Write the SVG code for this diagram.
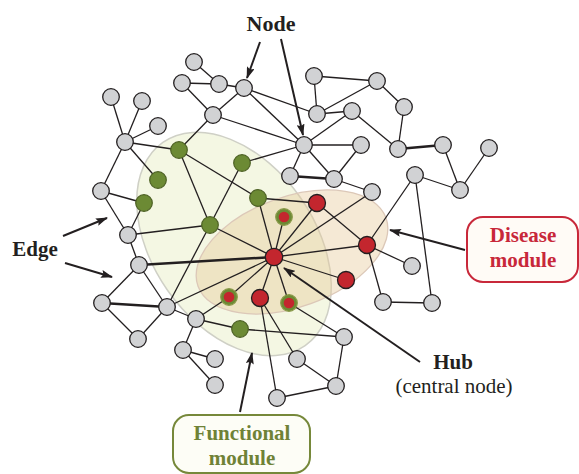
<svg xmlns="http://www.w3.org/2000/svg" width="579" height="474" viewBox="0 0 579 474">
<style>
.e{stroke:#231f20;stroke-width:1.3;fill:none}
.t{stroke:#231f20;stroke-width:2.6;fill:none}
.g{fill:#d1d2d4;stroke:#231f20;stroke-width:1.3}
.gr{fill:#6c8a34;stroke:#4d6124;stroke-width:1.2}
.rd{fill:#c3262e;stroke:#231f20;stroke-width:1.3}
.rgo{fill:#6c8a34;stroke:#8a9a4a;stroke-width:1.2}
.rgi{fill:#c3262e}
.a{stroke:#231f20;stroke-width:2;fill:none;marker-end:url(#ah)}
.lb{font-family:"Liberation Serif",serif;font-weight:bold;font-size:21px;fill:#231f20;text-anchor:middle}
.sub{font-family:"Liberation Serif",serif;font-size:21px;fill:#231f20;text-anchor:middle}
</style>
<defs>
<marker id="ah" markerUnits="userSpaceOnUse" markerWidth="12" markerHeight="8" refX="11" refY="4" orient="auto">
<path d="M0,0 L12,4 L0,8 L2,4 z" fill="#231f20"/>
</marker>
</defs>
<rect width="579" height="474" fill="#ffffff"/>
<g id="modules">
<ellipse id="functional-area" cx="234" cy="244" rx="124" ry="81" transform="rotate(55 234 244)" fill="#f4f7e3" stroke="#cfd0c6" stroke-width="1.5"/>
<ellipse id="disease-area" cx="292" cy="252" rx="100" ry="55" transform="rotate(-20 292 252)" fill="#e6c797" fill-opacity="0.4" stroke="#dcc8b8" stroke-width="1.3"/>
</g>
<g id="edges">
<line class="e" x1="111" y1="97" x2="125" y2="142"/>
<line class="e" x1="142" y1="101" x2="125" y2="142"/>
<line class="e" x1="158" y1="126" x2="125" y2="142"/>
<line class="e" x1="125" y1="142" x2="179" y2="150"/>
<line class="e" x1="125" y1="142" x2="101" y2="191"/>
<line class="e" x1="125" y1="142" x2="158" y2="180"/>
<line class="e" x1="194" y1="62" x2="219" y2="84"/>
<line class="e" x1="182" y1="83" x2="219" y2="84"/>
<line class="e" x1="182" y1="83" x2="213" y2="115"/>
<line class="e" x1="219" y1="84" x2="244" y2="88"/>
<line class="e" x1="244" y1="88" x2="213" y2="115"/>
<line class="e" x1="244" y1="88" x2="317" y2="114"/>
<line class="e" x1="244" y1="88" x2="304" y2="145"/>
<line class="e" x1="213" y1="115" x2="304" y2="145"/>
<line class="e" x1="213" y1="115" x2="179" y2="150"/>
<line class="e" x1="314" y1="76" x2="377" y2="81"/>
<line class="e" x1="314" y1="76" x2="317" y2="114"/>
<line class="e" x1="377" y1="81" x2="317" y2="114"/>
<line class="e" x1="317" y1="114" x2="352" y2="111"/>
<line class="e" x1="352" y1="111" x2="398" y2="149"/>
<line class="e" x1="304" y1="145" x2="352" y2="111"/>
<line class="e" x1="377" y1="81" x2="404" y2="107"/>
<line class="e" x1="404" y1="107" x2="398" y2="149"/>
<line class="t" x1="398" y1="149" x2="443" y2="145"/>
<line class="e" x1="443" y1="145" x2="460" y2="190"/>
<line class="e" x1="489" y1="148" x2="460" y2="190"/>
<line class="e" x1="415" y1="175" x2="460" y2="190"/>
<line class="e" x1="415" y1="175" x2="367" y2="245"/>
<line class="e" x1="415" y1="175" x2="432" y2="303"/>
<line class="e" x1="383" y1="302" x2="432" y2="303"/>
<line class="e" x1="367" y1="245" x2="412" y2="266"/>
<line class="e" x1="367" y1="245" x2="383" y2="302"/>
<line class="e" x1="304" y1="145" x2="361" y2="145"/>
<line class="e" x1="304" y1="145" x2="290" y2="176"/>
<line class="e" x1="304" y1="145" x2="334" y2="179"/>
<line class="e" x1="361" y1="145" x2="334" y2="179"/>
<line class="t" x1="290" y1="176" x2="334" y2="179"/>
<line class="e" x1="334" y1="179" x2="372" y2="192"/>
<line class="e" x1="304" y1="145" x2="242" y2="163"/>
<line class="e" x1="179" y1="150" x2="258" y2="198"/>
<line class="e" x1="179" y1="150" x2="210" y2="225"/>
<line class="e" x1="242" y1="163" x2="210" y2="225"/>
<line class="e" x1="258" y1="198" x2="317" y2="203"/>
<line class="e" x1="317" y1="203" x2="367" y2="245"/>
<line class="e" x1="101" y1="191" x2="144" y2="203"/>
<line class="e" x1="101" y1="191" x2="128" y2="235"/>
<line class="e" x1="128" y1="235" x2="144" y2="203"/>
<line class="e" x1="128" y1="235" x2="210" y2="225"/>
<line class="e" x1="128" y1="235" x2="139" y2="265"/>
<line class="t" x1="139" y1="265" x2="274" y2="257"/>
<line class="e" x1="139" y1="265" x2="102" y2="303"/>
<line class="e" x1="139" y1="265" x2="167" y2="307"/>
<line class="t" x1="102" y1="303" x2="167" y2="307"/>
<line class="e" x1="102" y1="303" x2="138" y2="339"/>
<line class="e" x1="138" y1="339" x2="167" y2="307"/>
<line class="e" x1="167" y1="307" x2="210" y2="225"/>
<line class="e" x1="167" y1="307" x2="274" y2="257"/>
<line class="e" x1="167" y1="307" x2="196" y2="319"/>
<line class="e" x1="196" y1="319" x2="229" y2="297"/>
<line class="e" x1="196" y1="319" x2="240" y2="329"/>
<line class="e" x1="196" y1="319" x2="183" y2="350"/>
<line class="e" x1="183" y1="350" x2="215" y2="359"/>
<line class="e" x1="183" y1="350" x2="215" y2="385"/>
<line class="e" x1="240" y1="329" x2="344" y2="337"/>
<line class="e" x1="274" y1="257" x2="210" y2="225"/>
<line class="e" x1="274" y1="257" x2="258" y2="198"/>
<line class="e" x1="274" y1="257" x2="284" y2="217"/>
<line class="e" x1="274" y1="257" x2="317" y2="203"/>
<line class="e" x1="274" y1="257" x2="372" y2="192"/>
<line class="e" x1="274" y1="257" x2="367" y2="245"/>
<line class="e" x1="274" y1="257" x2="346" y2="280"/>
<line class="e" x1="274" y1="257" x2="289" y2="303"/>
<line class="e" x1="274" y1="257" x2="260" y2="298"/>
<line class="e" x1="274" y1="257" x2="229" y2="297"/>
<line class="e" x1="260" y1="298" x2="277" y2="398"/>
<line class="e" x1="260" y1="298" x2="297" y2="359"/>
<line class="e" x1="289" y1="303" x2="344" y2="337"/>
<line class="e" x1="297" y1="359" x2="336" y2="386"/>
<line class="e" x1="344" y1="337" x2="336" y2="386"/>
<line class="e" x1="277" y1="398" x2="336" y2="386"/>
</g>
<g id="gray-nodes">
<circle id="n-a" class="g" cx="111" cy="97" r="8.3"/>
<circle id="n-b" class="g" cx="142" cy="101" r="8.3"/>
<circle id="n-c" class="g" cx="158" cy="126" r="8.3"/>
<circle id="n-d" class="g" cx="125" cy="142" r="8.3"/>
<circle id="n-e" class="g" cx="194" cy="62" r="8.3"/>
<circle id="n-f" class="g" cx="182" cy="83" r="8.3"/>
<circle id="n-g" class="g" cx="219" cy="84" r="8.3"/>
<circle id="n-h" class="g" cx="244" cy="88" r="8.3"/>
<circle id="n-i" class="g" cx="213" cy="115" r="8.3"/>
<circle id="n-j" class="g" cx="304" cy="145" r="8.3"/>
<circle id="n-k" class="g" cx="314" cy="76" r="8.3"/>
<circle id="n-l" class="g" cx="377" cy="81" r="8.3"/>
<circle id="n-m" class="g" cx="317" cy="114" r="8.3"/>
<circle id="n-n" class="g" cx="352" cy="111" r="8.3"/>
<circle id="n-o" class="g" cx="361" cy="145" r="8.3"/>
<circle id="n-p" class="g" cx="398" cy="149" r="8.3"/>
<circle id="n-q" class="g" cx="404" cy="107" r="8.3"/>
<circle id="n-s" class="g" cx="443" cy="145" r="8.3"/>
<circle id="n-r" class="g" cx="489" cy="148" r="8.3"/>
<circle id="n-t" class="g" cx="415" cy="175" r="8.3"/>
<circle id="n-u" class="g" cx="460" cy="190" r="8.3"/>
<circle id="n-v" class="g" cx="290" cy="176" r="8.3"/>
<circle id="n-w" class="g" cx="334" cy="179" r="8.3"/>
<circle id="n-x" class="g" cx="372" cy="192" r="8.3"/>
<circle id="n-y" class="g" cx="101" cy="191" r="8.3"/>
<circle id="n-z" class="g" cx="128" cy="235" r="8.3"/>
<circle id="n-aa" class="g" cx="139" cy="265" r="8.3"/>
<circle id="n-ab" class="g" cx="102" cy="303" r="8.3"/>
<circle id="n-ac" class="g" cx="167" cy="307" r="8.3"/>
<circle id="n-ad" class="g" cx="196" cy="319" r="8.3"/>
<circle id="n-ae" class="g" cx="138" cy="339" r="8.3"/>
<circle id="n-af" class="g" cx="183" cy="350" r="8.3"/>
<circle id="n-ag" class="g" cx="215" cy="359" r="8.3"/>
<circle id="n-ah" class="g" cx="215" cy="385" r="8.3"/>
<circle id="n-ai" class="g" cx="277" cy="398" r="8.3"/>
<circle id="n-aj" class="g" cx="297" cy="359" r="8.3"/>
<circle id="n-ak" class="g" cx="336" cy="386" r="8.3"/>
<circle id="n-al" class="g" cx="344" cy="337" r="8.3"/>
<circle id="n-am" class="g" cx="412" cy="266" r="8.3"/>
<circle id="n-an" class="g" cx="383" cy="302" r="8.3"/>
<circle id="n-ao" class="g" cx="432" cy="303" r="8.3"/>
</g>
<g id="green-nodes">
<circle id="f-1" class="gr" cx="179" cy="150" r="8.3"/>
<circle id="f-2" class="gr" cx="158" cy="180" r="8.3"/>
<circle id="f-3" class="gr" cx="144" cy="203" r="8.3"/>
<circle id="f-4" class="gr" cx="242" cy="163" r="8.3"/>
<circle id="f-5" class="gr" cx="258" cy="198" r="8.3"/>
<circle id="f-6" class="gr" cx="210" cy="225" r="8.3"/>
<circle id="f-7" class="gr" cx="240" cy="329" r="8.3"/>
</g>
<g id="mixed-nodes">
<g id="m-1"><circle class="rgo" cx="284" cy="217" r="8.3"/><circle class="rgi" cx="284" cy="217" r="5.3"/></g>
<g id="m-2"><circle class="rgo" cx="229" cy="297" r="8.3"/><circle class="rgi" cx="229" cy="297" r="5.3"/></g>
<g id="m-3"><circle class="rgo" cx="289" cy="303" r="8.3"/><circle class="rgi" cx="289" cy="303" r="5.3"/></g>
</g>
<g id="red-nodes">
<circle id="hub" class="rd" cx="274" cy="257" r="8.7"/>
<circle id="d-1" class="rd" cx="317" cy="203" r="8.5"/>
<circle id="d-2" class="rd" cx="367" cy="245" r="8.5"/>
<circle id="d-3" class="rd" cx="346" cy="280" r="8.5"/>
<circle id="d-4" class="rd" cx="260" cy="298" r="8.5"/>
</g>
<g id="annotation-arrows">
<line class="a" x1="260" y1="42" x2="247" y2="78"/>
<line class="a" x1="281" y1="39" x2="303" y2="135"/>
<line class="a" x1="63" y1="236" x2="107" y2="218"/>
<line class="a" x1="65" y1="263" x2="112" y2="277"/>
<line class="a" x1="465" y1="250" x2="390" y2="230"/>
<line class="a" x1="420" y1="362" x2="284" y2="268"/>
<line class="a" x1="240" y1="412" x2="252" y2="353"/>
</g>
<g id="labels">
<text class="lb" x="271" y="31" style="font-size:22px">Node</text>
<text class="lb" x="35" y="256">Edge</text>
<text class="lb" x="453" y="369">Hub</text>
<text class="sub" x="454" y="393">(central node)</text>
</g>
<g id="disease-label">
<rect x="467" y="217" width="111" height="65" rx="16" fill="#fffbf6" stroke="#c8283a" stroke-width="2"/>
<text class="lb" x="523" y="242" style="fill:#c8283a">Disease</text>
<text class="lb" x="523" y="267" style="fill:#c8283a">module</text>
</g>
<g id="functional-label">
<rect x="173" y="415" width="137" height="58" rx="16" fill="#fdfdf6" stroke="#76883a" stroke-width="2"/>
<text class="lb" x="242" y="440" style="fill:#6f8236">Functional</text>
<text class="lb" x="242" y="465" style="fill:#6f8236">module</text>
</g>
</svg>
